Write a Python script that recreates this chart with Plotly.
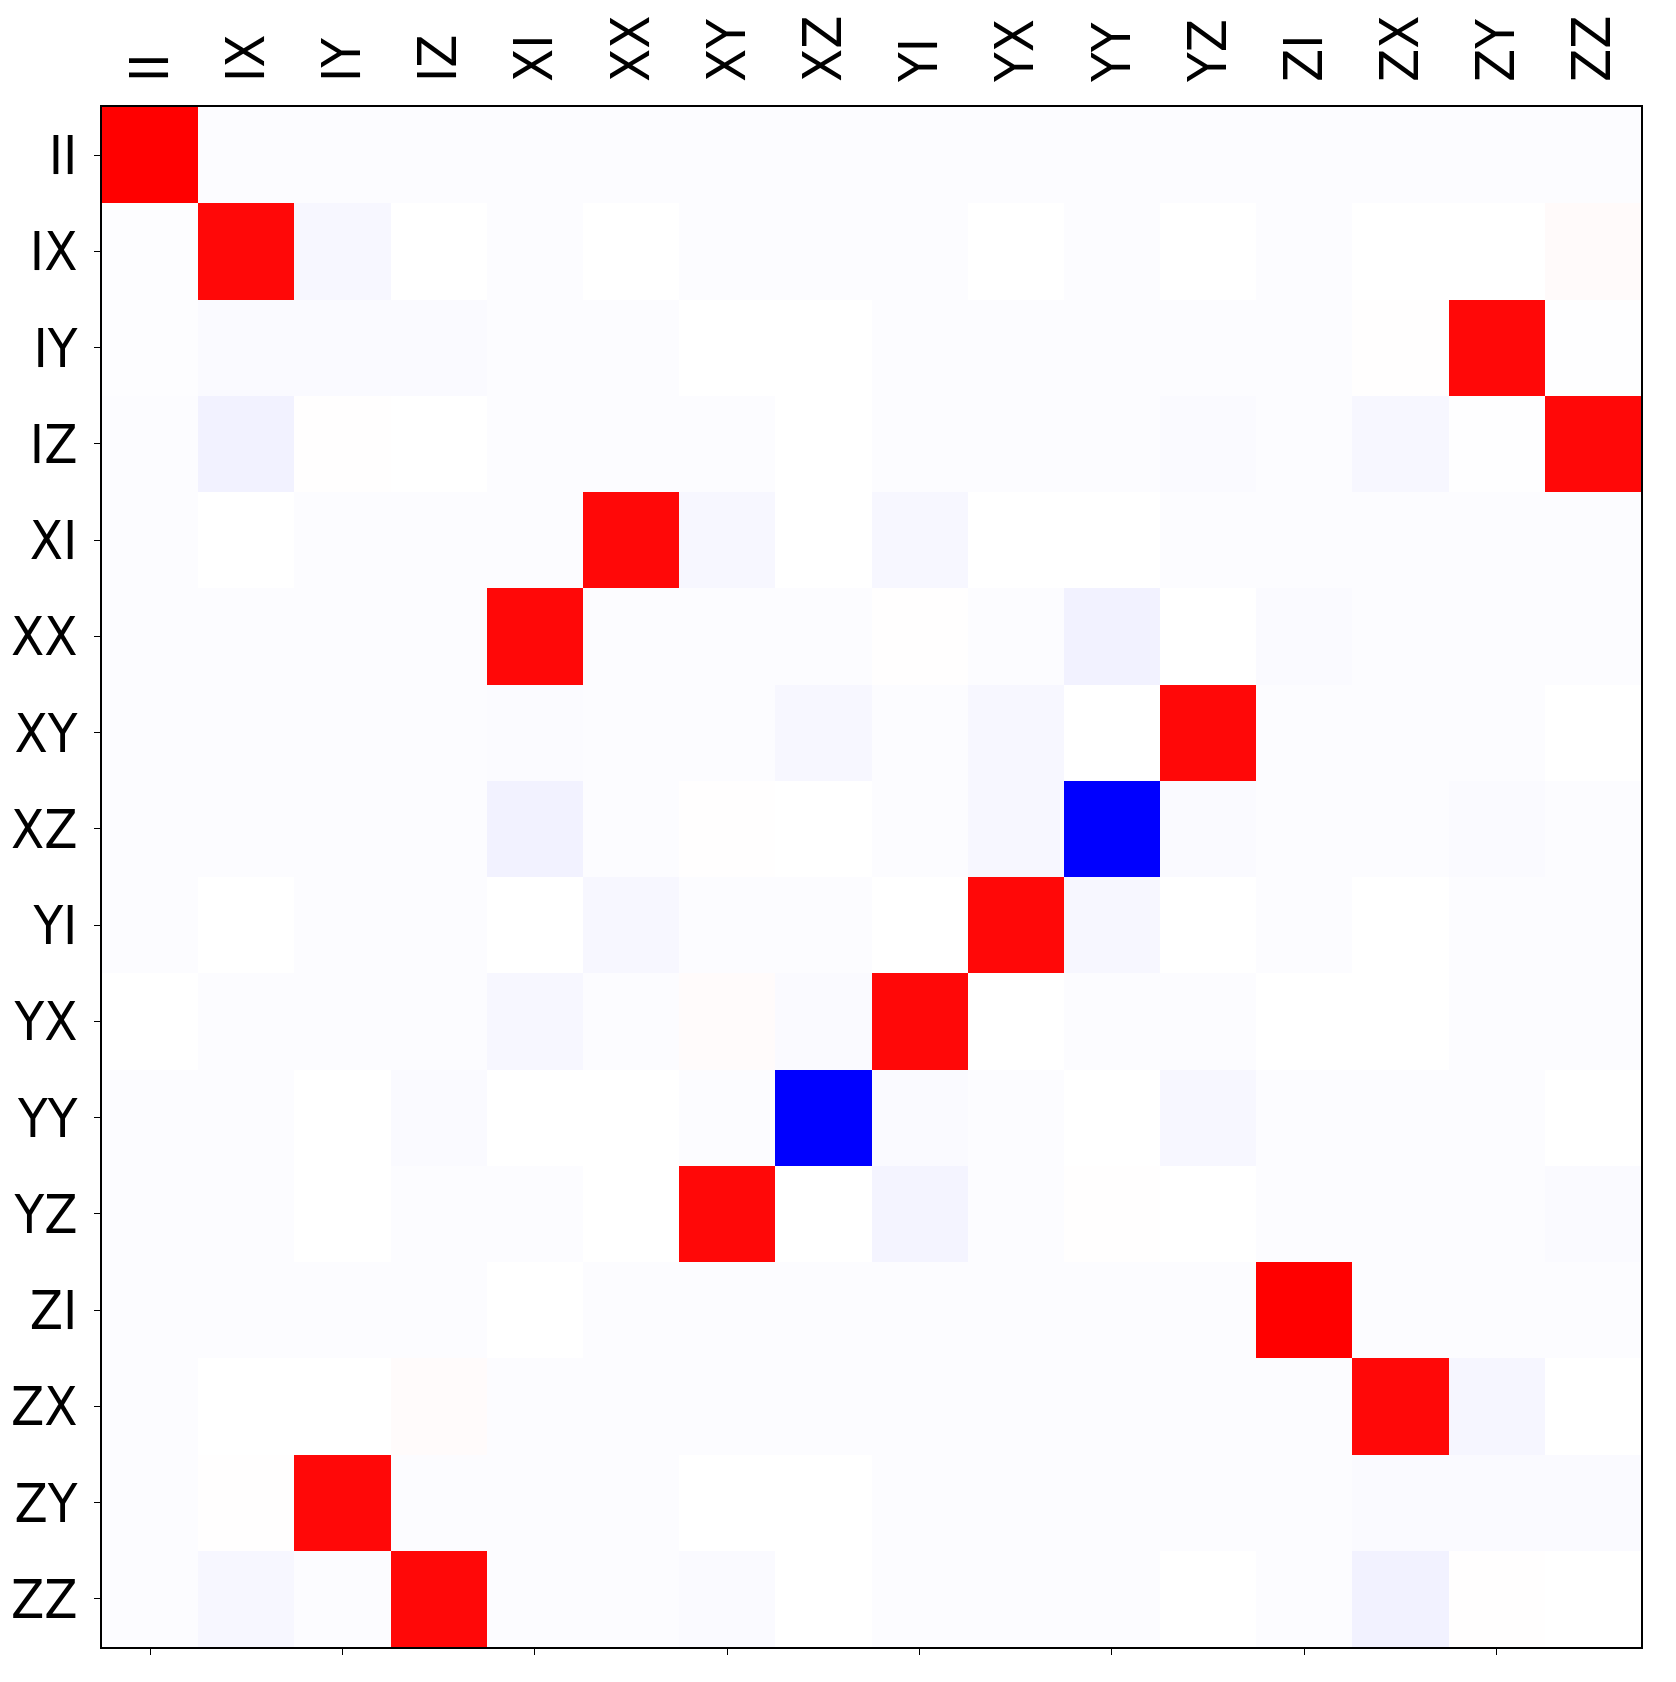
import plotly.graph_objects as go

labels = ["II", "IX", "IY", "IZ", "XI", "XX", "XY", "XZ",
          "YI", "YX", "YY", "YZ", "ZI", "ZX", "ZY", "ZZ"]

row_II = [1.0, -0.012, -0.012, -0.012, -0.012, -0.012, -0.012, -0.012, -0.012, -0.012, -0.012, -0.012, -0.012, -0.012, -0.012, -0.012]
row_IX = [-0.008, 0.97, -0.03, 0.0, -0.012, 0.0, -0.012, -0.012, -0.012, 0.0, -0.012, 0.0, -0.012, 0.0, 0.0, 0.02]
row_IY = [-0.008, -0.018, -0.018, -0.018, -0.012, -0.012, 0.0, 0.0, -0.012, -0.012, -0.012, -0.012, -0.012, 0.004, 0.97, -0.004]
row_IZ = [-0.012, -0.05, 0.004, 0.0, -0.012, -0.012, -0.012, 0.0, -0.012, -0.012, -0.012, -0.018, -0.012, -0.03, -0.004, 0.97]
row_XI = [-0.012, 0.0, -0.012, -0.012, -0.012, 0.97, -0.03, 0.0, -0.03, 0.0, 0.0, -0.012, -0.012, -0.012, -0.012, -0.012]
row_XX = [-0.012, -0.012, -0.012, -0.012, 0.97, -0.012, -0.012, -0.012, 0.004, -0.012, -0.05, 0.0, -0.018, -0.012, -0.012, -0.012]
row_XY = [-0.012, -0.012, -0.012, -0.012, -0.015, -0.012, -0.012, -0.03, -0.012, -0.03, 0.0, 0.97, -0.012, -0.012, -0.012, 0.0]
row_XZ = [-0.012, -0.012, -0.012, -0.012, -0.05, -0.012, 0.004, 0.0, -0.012, -0.03, -1.0, -0.018, -0.012, -0.012, -0.018, -0.012]
row_YI = [-0.012, 0.0, -0.012, -0.012, 0.0, -0.03, -0.012, -0.012, 0.0, 0.97, -0.03, 0.0, -0.012, 0.0, -0.012, -0.012]
row_YX = [0.0, -0.012, -0.012, -0.012, -0.03, -0.012, 0.015, -0.018, 0.97, 0.0, -0.012, -0.012, 0.0, 0.0, -0.012, -0.012]
row_YY = [-0.012, -0.012, 0.0, -0.018, 0.0, 0.0, -0.012, -1.0, -0.018, -0.012, 0.0, -0.03, -0.012, -0.012, -0.012, 0.0]
row_YZ = [-0.012, -0.012, 0.0, -0.012, -0.012, 0.0, 0.97, 0.0, -0.045, -0.012, 0.004, 0.0, -0.012, -0.012, -0.012, -0.018]
row_ZI = [-0.012, -0.012, -0.012, -0.012, 0.0, -0.012, -0.012, -0.012, -0.012, -0.012, -0.012, -0.012, 1.0, -0.012, -0.012, -0.012]
row_ZX = [-0.012, 0.0, 0.0, 0.015, -0.012, -0.012, -0.012, -0.012, -0.012, -0.012, -0.012, -0.012, -0.012, 0.97, -0.035, 0.0]
row_ZY = [-0.012, 0.004, 0.97, -0.012, -0.012, -0.012, 0.0, 0.0, -0.012, -0.012, -0.012, -0.012, -0.012, -0.018, -0.018, -0.018]
row_ZZ = [-0.012, -0.03, -0.012, 0.97, -0.012, -0.012, -0.018, 0.0, -0.012, -0.012, -0.012, 0.0, -0.012, -0.05, 0.004, 0.0]

z = [row_II, row_IX, row_IY, row_IZ, row_XI, row_XX, row_XY, row_XZ,
     row_YI, row_YX, row_YY, row_YZ, row_ZI, row_ZX, row_ZY, row_ZZ]

idx = list(range(len(labels)))
bottom_ticks = idx[::2]

bwr = [[0.0, "rgb(0,0,255)"], [0.5, "rgb(255,255,255)"], [1.0, "rgb(255,0,0)"]]
FONT = "Liberation Sans Narrow, DejaVu Sans Condensed, Arial Narrow, sans-serif"

fig = go.Figure()
fig.add_trace(go.Heatmap(
    z=z, x=idx, y=idx, colorscale=bwr, zmin=-1, zmax=1,
    showscale=False, xaxis="x", yaxis="y",
))
# invisible trace to bind the top axis
fig.add_trace(go.Scatter(x=[0], y=[0], xaxis="x2", yaxis="y",
                         mode="markers", marker=dict(opacity=0),
                         hoverinfo="skip", showlegend=False))

rng = [-0.5, len(labels) - 0.5]
fig.update_layout(
    width=1660, height=1666,
    margin=dict(l=94, r=27, t=99, b=27),
    paper_bgcolor="white", plot_bgcolor="white",
    xaxis=dict(range=rng, tickvals=bottom_ticks, showticklabels=False,
               ticks="outside", ticklen=6, tickwidth=1, tickcolor="black",
               showgrid=False, zeroline=False, automargin=False,
               showline=True, linecolor="black", linewidth=1.5, mirror=True),
    xaxis2=dict(range=rng, overlaying="x", side="top", anchor="y",
                tickvals=idx, ticktext=labels, tickangle=-90, ticks="",
                showgrid=False, zeroline=False, showline=False, automargin=False,
                ticklabelstandoff=24,
                tickfont=dict(family=FONT, size=54, color="black")),
    yaxis=dict(range=[len(labels) - 0.5, -0.5], tickvals=idx, ticktext=labels,
               ticks="outside", ticklen=6, tickwidth=1, tickcolor="black",
               showgrid=False, zeroline=False, automargin=False,
               showline=True, linecolor="black", linewidth=1.5, mirror=True,
               ticklabelstandoff=6,
               tickfont=dict(family=FONT, size=54, color="black")),
)

fig.write_html("out.html")
